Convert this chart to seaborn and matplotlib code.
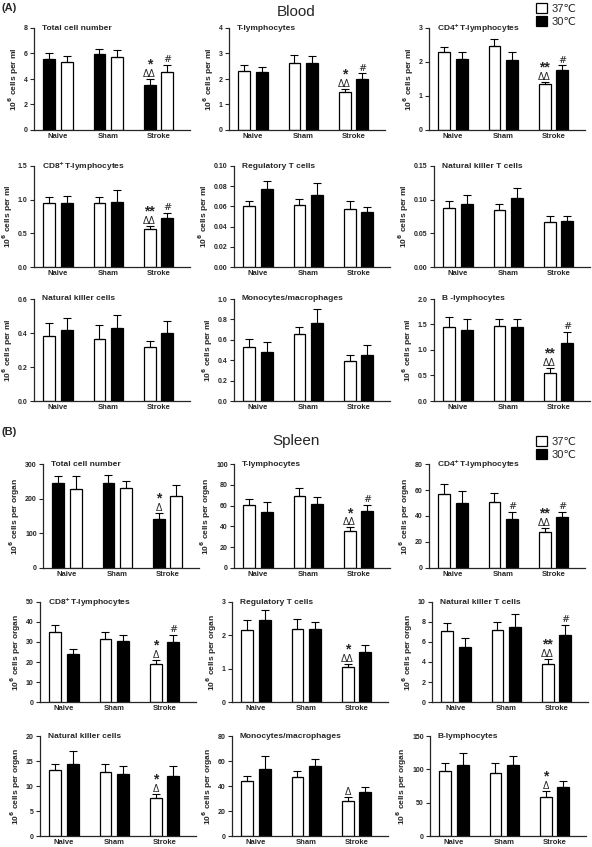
import numpy as np
import pandas as pd
import matplotlib
matplotlib.use("Agg")
import matplotlib.pyplot as plt
import seaborn as sns
from matplotlib.patches import Patch

sns.set_style("ticks")
plt.rcParams['font.family'] = ['Liberation Sans', 'DejaVu Sans']

groups = ["Naive", "Sham", "Stroke"]
temps = ["37℃", "30℃"]

# ---- Blood ----
blood_titles = ["Total cell number", "T-lymphocytes", r"CD4$^{\mathbf{+}}$T-lymphocytes",
                r"CD8$^{\mathbf{+}}$T-lymphocytes", "Regulatory T cells", "Natural killer T cells",
                "Natural killer cells", "Monocytes/macrophages", "B -lymphocytes"]
blood_m37 = [[5.35, 5.75, 4.55], [2.3, 2.62, 1.5], [2.3, 2.47, 1.35],
             [0.95, 0.95, 0.56], [0.060, 0.061, 0.057], [0.088, 0.084, 0.067],
             [0.38, 0.365, 0.315], [0.53, 0.66, 0.39], [1.46, 1.47, 0.54]]
blood_e37 = [[0.45, 0.55, 0.55], [0.25, 0.33, 0.1], [0.15, 0.2, 0.07],
             [0.09, 0.09, 0.05], [0.005, 0.006, 0.008], [0.01, 0.009, 0.009],
             [0.08, 0.08, 0.04], [0.08, 0.07, 0.06], [0.18, 0.13, 0.1]]
blood_m30 = [[5.6, 5.95, 3.55], [2.28, 2.62, 2.0], [2.1, 2.07, 1.75],
             [0.95, 0.97, 0.73], [0.077, 0.071, 0.054], [0.093, 0.102, 0.069],
             [0.42, 0.43, 0.40], [0.48, 0.76, 0.45], [1.40, 1.46, 1.14]]
blood_e30 = [[0.45, 0.4, 0.45], [0.2, 0.3, 0.22], [0.2, 0.22, 0.15],
             [0.1, 0.18, 0.07], [0.008, 0.012, 0.005], [0.014, 0.015, 0.007],
             [0.07, 0.075, 0.07], [0.1, 0.14, 0.1], [0.2, 0.15, 0.22]]
blood_ymax = [8, 4, 3, 1.5, 0.10, 0.15, 0.6, 1.0, 2.0]
blood_step = [2, 1, 1, 0.5, 0.02, 0.05, 0.2, 0.2, 0.5]
blood_dec = [0, 0, 0, 1, 2, 2, 1, 1, 1]
# marks on Stroke: star/delta on first bar, hash on second bar
blood_star = ["*", "*", "**", "**", "", "", "", "", "**"]
blood_delta = ["ΔΔ", "ΔΔ", "ΔΔ", "ΔΔ", "", "", "", "", "ΔΔ"]
blood_hash = [[2], [2], [2], [2], [], [], [], [], [2]]

# ---- Spleen ----
spleen_titles = ["Total cell number", "T-lymphocytes", r"CD4$^{\mathbf{+}}$T-lymphocytes",
                 r"CD8$^{\mathbf{+}}$T-lymphocytes", "Regulatory T cells", "Natural killer T cells",
                 "Natural killer cells", "Monocytes/macrophages", "B-lymphocytes"]
spleen_m37 = [[228, 232, 207], [61, 69, 36], [57, 51, 28], [35, 31.5, 19],
              [2.15, 2.2, 1.05], [7.1, 7.2, 3.8], [13.3, 12.8, 7.6], [44, 47, 28], [97, 95, 59]]
spleen_e37 = [[38, 20, 33], [5, 8, 3], [8, 7, 3], [3.5, 3.5, 2],
              [0.3, 0.3, 0.1], [0.8, 0.8, 0.5], [1.2, 1.7, 0.8], [4, 5, 3], [12, 15, 8]]
spleen_m30 = [[245, 246, 141], [54, 62, 55], [50, 38, 39], [24, 30.5, 30],
              [2.45, 2.2, 1.5], [5.5, 7.5, 6.7], [14.4, 12.5, 12.1], [54, 56, 35], [107, 107, 73]]
spleen_e30 = [[20, 22, 17], [9, 6, 6], [9, 5, 4], [2.5, 3, 3.5],
              [0.3, 0.2, 0.2], [0.9, 1.3, 1.0], [2.6, 1.5, 2], [10, 6, 4], [18, 13, 10]]
spleen_ymax = [300, 100, 80, 50, 3, 10, 20, 80, 150]
spleen_step = [100, 20, 20, 10, 1, 2, 5, 20, 50]
spleen_dec = [0] * 9
spleen_star = ["*", "*", "**", "*", "*", "**", "*", "", "*"]
spleen_delta = ["Δ", "ΔΔ", "ΔΔ", "Δ", "ΔΔ", "ΔΔ", "Δ", "Δ", "Δ"]
spleen_hash = [[], [2], [1, 2], [2], [], [2], [], [], []]

W, H = 592, 847
fig = plt.figure(figsize=(W / 100, H / 100), dpi=100)


def add_ax(x0, ytop, yzero, width=156):
    return fig.add_axes([x0 / W, 1 - yzero / H, width / W, (yzero - ytop) / H])


def draw_panel(ax, title, m37, e37, m30, e30, ymax, step, dec, star, delta, hashes, unit, black_first):
    df = pd.DataFrame({
        "group": groups * 2,
        "temp": [temps[0]] * 3 + [temps[1]] * 3,
        "value": m37 + m30,
        "err": e37 + e30,
    })
    order = [temps[1], temps[0]] if black_first else temps
    sns.barplot(data=df, x="group", y="value", hue="temp", hue_order=order, order=groups,
                palette={temps[0]: "white", temps[1]: "black"}, saturation=1,
                edgecolor="black", linewidth=0.9, width=0.7, gap=0.33,
                errorbar=None, legend=False, ax=ax)
    bars = list(ax.containers)
    tops = []
    for k, cont in enumerate(bars):
        sub = df[df["temp"] == order[k]].set_index("group").loc[groups]
        xs = [p.get_x() + p.get_width() / 2 for p in cont.patches]
        ys = sub["value"].values
        es = sub["err"].values
        ax.errorbar(xs, ys, yerr=[np.zeros(3), es], fmt="none", ecolor="black",
                    elinewidth=0.8, capsize=3, capthick=0.8)
        tops.append(list(zip(xs, ys + es)))
    # significance marks
    x1, t1 = tops[0][2]
    if delta:
        ax.annotate(delta, (x1, t1), xytext=(0, 1.5), textcoords="offset points",
                    ha="center", va="baseline", fontsize=7)
    if star:
        ax.annotate(star, (x1, t1), xytext=(0, 7.5 if delta else 1.5), textcoords="offset points",
                    ha="center", va="baseline", fontsize=10, fontweight="bold")
    for g in hashes:
        x2, t2 = tops[1][g]
        ax.annotate("#", (x2, t2), xytext=(0, 2), textcoords="offset points",
                    ha="center", va="baseline", fontsize=7, family="DejaVu Serif")

    ticks = np.arange(0, ymax + step / 2, step)
    ax.set_ylim(0, ymax)
    ax.set_yticks(ticks)
    ax.set_yticklabels([f"{t:.{dec}f}" for t in ticks], fontsize=5, fontweight="bold")
    ax.set_xlim(-0.48, 2.63)
    ax.set_xticks(range(3))
    ax.set_xticklabels(groups, fontsize=5.5, fontweight="bold")
    ax.tick_params(axis="x", length=0, pad=2.5)
    ax.tick_params(axis="y", length=3, width=0.8, pad=1.5)
    ax.set_xlabel("")
    ax.set_ylabel(r"10$^{\mathbf{6}}$ cells per " + unit, fontsize=6, fontweight="bold", labelpad=2)
    ax.text(0.05, 1.0, title, transform=ax.transAxes, fontsize=6, fontweight="bold",
            ha="left", va="center")
    for s in ["left", "bottom"]:
        ax.spines[s].set_linewidth(0.9)
    sns.despine(ax=ax)


blood_rows = [(28, 130), (166, 267), (299, 401)]
blood_lefts = [[34, 229, 429], [34, 234, 434], [34, 234, 434]]
spleen_rows = [(464, 568), (602, 702), (736, 836)]
spleen_lefts = [[43, 234, 429], [40, 232, 432], [40, 232, 430]]

for i in range(9):
    r, c = divmod(i, 3)
    ax = add_ax(blood_lefts[r][c], *blood_rows[r])
    draw_panel(ax, blood_titles[i], blood_m37[i], blood_e37[i], blood_m30[i], blood_e30[i],
               blood_ymax[i], blood_step[i], blood_dec[i], blood_star[i], blood_delta[i],
               blood_hash[i], "ml", i == 0)
    ax = add_ax(spleen_lefts[r][c], *spleen_rows[r])
    draw_panel(ax, spleen_titles[i], spleen_m37[i], spleen_e37[i], spleen_m30[i], spleen_e30[i],
               spleen_ymax[i], spleen_step[i], spleen_dec[i], spleen_star[i], spleen_delta[i],
               spleen_hash[i], "organ", i == 0)

fig.text(2 / W, 1 - 8 / H, "(A)", fontsize=8, fontweight="bold", va="center")
fig.text(2 / W, 1 - 432 / H, "(B)", fontsize=8, fontweight="bold", va="center")
fig.text(296 / W, 1 - 12 / H, "Blood", fontsize=11, ha="center", va="center")
fig.text(296 / W, 1 - 441 / H, "Spleen", fontsize=11, ha="center", va="center")

handles = [Patch(facecolor="white", edgecolor="black", linewidth=0.9),
           Patch(facecolor="black", edgecolor="black", linewidth=0.9)]
for ytop in [3, 436]:
    fig.legend(handles, temps, loc="upper left", bbox_to_anchor=(536 / W, 1 - ytop / H),
               frameon=False, fontsize=8, handlelength=1.0, handleheight=1.0,
               handletextpad=0.4, labelspacing=0.2, borderaxespad=0, borderpad=0)

fig.savefig("out.png", dpi=100)
